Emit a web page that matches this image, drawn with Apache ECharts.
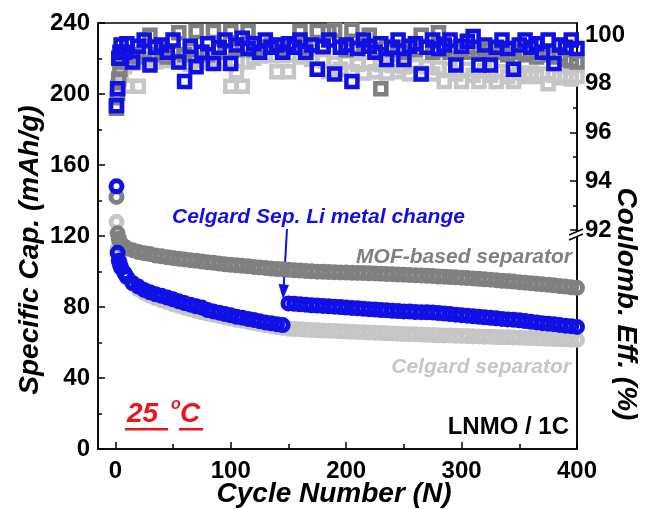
<!DOCTYPE html>
<html>
<head>
<meta charset="utf-8">
<script src="https://cdn.jsdelivr.net/npm/echarts@6/dist/echarts.min.js"></script>
<style>
  html, body { margin: 0; padding: 0; background: #fff; }
  #chart { width: 646px; height: 509px; }
</style>
</head>
<body>
<div id="chart"></div>
<script>
// cycle numbers
var cycles = [1, 2, 3, 4, 5, 8, 10, 15, 20, 25, 30, 35, 40, 45, 50, 55, 60, 65, 70, 75, 80, 85, 90, 95, 100,
  105, 110, 115, 120, 125, 130, 135, 140, 145, 150, 155, 160, 165, 170, 175, 180, 185, 190, 195, 200,
  205, 210, 215, 220, 225, 230, 235, 240, 245, 250, 255, 260, 265, 270, 275, 280, 285, 290, 295, 300,
  305, 310, 315, 320, 325, 330, 335, 340, 345, 350, 355, 360, 365, 370, 375, 380, 385, 390, 395, 400]

// specific capacity (mAh/g)
var mofCap = [142, 121.5, 118.5, 116.5, 115.5, 114, 113, 112, 111, 110.3, 109.8, 109, 108.6, 108, 107.6, 107.2, 106.8, 106.4, 106, 105.6, 105.2, 104.9, 104.5, 104.1, 103.8,
  103.5, 103.2, 102.9, 102.6, 102.3, 102, 101.7, 101.4, 101.2, 101, 100.7, 100.5, 100.3, 100.1, 99.9, 99.8, 99.7, 99.6, 99.5, 99.4,
  99.3, 99.2, 99.1, 99, 98.9, 98.8, 98.6, 98.5, 98.3, 98.2, 98, 97.9, 97.7, 97.6, 97.4, 97.2, 97.1, 96.9, 96.7, 96.5,
  96.3, 96.1, 95.9, 95.6, 95.4, 95.1, 94.8, 94.6, 94.3, 94, 93.7, 93.4, 93.1, 92.8, 92.5, 92.2, 91.8, 91.5, 91.1, 90.8]
var celgardCap = [128, 113, 109, 105.5, 103, 99, 96.5, 93, 90, 88, 86.3, 85, 83.8, 82.7, 81.6, 80.6, 79.6, 78.7, 77.9, 77, 76.3, 75.6, 74.9, 74.2, 73.5,
  72.8, 72.2, 71.6, 71, 70.4, 69.8, 69.2, 68.7, 68.2, 67.8, 67.6, 67.4, 67.2, 67, 66.9, 66.7, 66.6, 66.5, 66.3, 66.2,
  66, 65.9, 65.8, 65.6, 65.5, 65.4, 65.2, 65.1, 64.9, 64.8, 64.7, 64.6, 64.5, 64.3, 64.2, 64.1, 64, 63.9, 63.8, 63.7,
  63.6, 63.5, 63.4, 63.3, 63.2, 63.1, 63, 62.9, 62.8, 62.7, 62.6, 62.5, 62.4, 62.2, 62.1, 62, 61.9, 61.8, 61.6, 61.5]
var liChangeCap = [148, 110.5, 106, 104, 102, 99, 97, 93.5, 91.5, 89.6, 88.3, 87.2, 86.3, 85.3, 84.3, 83.2, 82.2, 81.3, 80.4, 79.7, 78.3, 77.5, 76.8, 76, 75.3,
  74.5, 74, 73.3, 72.7, 72, 71.3, 70.8, 70.3, 69.8, 82, 81.8, 81.5, 81.3, 81, 80.8, 80.6, 80.4, 80.2, 80, 79.7,
  79.5, 79.3, 79, 78.8, 78.6, 78.3, 78.1, 77.9, 77.7, 77.5, 77.4, 77.2, 77.1, 77, 76.9, 76.6, 76.3, 76, 75.7, 75.4,
  75.1, 74.8, 74.5, 74.2, 73.9, 73.6, 73.3, 73, 72.8, 72.5, 72.1, 71.7, 71.3, 70.9, 70.6, 70.3, 69.9, 69.5, 69.2, 68.8]

// coulombic efficiency (%)
var mofCE = [97, 97.6, 98.2, 98.6, 98.9, 99.15, 99.25, 99.2, 99.1, 99.3, 100, 99.2, 99.4, 99.1, 99.3, 100.1, 99.2, 99.4, 100.15, 99.3, 99.2, 100.15, 99.4, 99.3, 100.15,
  99.4, 99.5, 100.15, 99.4, 99.5, 99.5, 99.6, 99.5, 99.4, 99.5, 99.6, 100.15, 99.5, 99.6, 100.15, 99.5, 100.15, 100.2, 99.5, 99.4,
  100.2, 99.5, 99.6, 100, 99.4, 97.8, 99.5, 99.4, 99.5, 99.3, 99.5, 99.4, 100, 99.5, 99.3, 100.1, 99.4, 99.3, 99.5, 99.4,
  99.3, 99.5, 99.3, 99.4, 99.2, 99.4, 99.3, 99.2, 99.4, 99.3, 99.2, 99.3, 99.1, 99.3, 99.2, 99.1, 99.2, 99, 98.95, 98.9]
var celgardCE = [97.4, 97.9, 98.1, 98.4, 98.5, 98.7, 97.9, 98.85, 97.9, 98.9, 99, 98.9, 99.05, 98.95, 99, 98.9, 99.05, 98.8, 98.95, 99, 98.9, 99, 98.85, 98.95, 97.9,
  98.5, 97.9, 98.9, 99.05, 99.15, 99.2, 99.15, 98.5, 99.15, 98.5, 99.2, 99.1, 99.15, 99, 98.6, 98.95, 98.5, 98.85, 98.6, 98.9,
  98.5, 98.8, 98.45, 98.85, 98.5, 98.8, 98.45, 98.75, 98.5, 98.7, 98.4, 98.75, 98.45, 98.7, 98.4, 98.65, 98.1, 98.6, 98.4, 98.1,
  98.6, 98.35, 98.1, 98.55, 98.35, 98.1, 98.5, 98.3, 98.1, 98.45, 98.3, 98.45, 98.3, 98.4, 98, 98.35, 98.25, 98.35, 98.2, 98.3]
var liChangeCE = [97.1, 97.8, 99.05, 99.3, 99.6, 99.3, 99.65, 98.9, 99.55, 99.8, 98.77, 99.5, 99.6, 99.3, 99.8, 98.9, 98.1, 99.55, 98.7, 99.3, 99.65, 98.84, 99.5, 99.8, 98.84,
  99.6, 99.87, 99.45, 99.65, 99.3, 99.8, 99.5, 99.6, 99.3, 99.65, 99.5, 99.8, 99.3, 99.6, 98.6, 99.55, 99.8, 98.4, 99.5, 99.6,
  98.1, 99.45, 99.8, 99.55, 99.3, 99.65, 99, 99.5, 99.8, 99, 99.55, 99.65, 98.4, 99.5, 99.8, 99.45, 99.6, 99.8, 98.77, 99.55,
  99.75, 99.95, 98.77, 99.6, 98.77, 99.5, 99.8, 99.45, 98.6, 99.6, 99.8, 99.5, 99.65, 99.3, 99.8, 98.84, 99.6, 99.5, 99.8, 99.45]

var xTickLabels = [0, 100, 200, 300, 400]
var xMinorTicks = [50, 150, 250, 350]
var ceTickLabels = [92, 94, 96, 98, 100]
var ceMinorTicks = [93, 95, 97, 99]

var BLUE = '#1010e6'
var DARK = '#808080'
var LIGHT = '#c6c6c6'
var RED = '#e8161c'
var FONT = 'Liberation Sans, Arial, sans-serif'

function pairs(ys) {
  return cycles.map(function(c, i) { return [c, ys[i]] })
}

// hollow markers with a thick outline so that neighbouring points merge into a band
function markSeries(name, ys, color, yAxisIndex, symbol, size, border) {
  return {
    name: name,
    type: 'scatter',
    xAxisIndex: 0,
    yAxisIndex: yAxisIndex,
    symbol: symbol,
    symbolSize: size,
    itemStyle: { color: 'rgba(0,0,0,0)', borderColor: color, borderWidth: border, opacity: 1 },
    emphasis: { disabled: true },
    data: pairs(ys)
  }
}

var labelStyle = { color: '#000', fontSize: 24, fontWeight: 'bold', fontFamily: FONT }
var axisLineStyle = { show: true, onZero: false, lineStyle: { color: '#000', width: 1.5 } }
var hiddenLine = { show: true, onZero: false, lineStyle: { color: 'rgba(0,0,0,0)', width: 1 } }
var tickLine = { color: '#000', width: 1.5 }

function txt(x, y, text, color, font, align, rotation) {
  return {
    type: 'text', x: x, y: y, rotation: rotation || 0,
    style: { text: text, fill: color, font: font + ' ' + FONT, textAlign: align, textVerticalAlign: 'middle' }
  }
}

var chart = echarts.init(document.getElementById('chart'), null, { renderer: 'canvas' })

chart.setOption({
  animation: false,
  backgroundColor: '#fff',
  grid: {
    left: 98, top: 23, right: 69, bottom: 60,
    show: true, borderColor: '#000', borderWidth: 1.5,
    containLabel: false, outerBoundsMode: 'none'
  },
  xAxis: [{
    type: 'value', min: -15, max: 400, position: 'bottom',
    axisLine: axisLineStyle,
    axisTick: { inside: true, length: 7, customValues: xTickLabels, lineStyle: tickLine },
    axisLabel: Object.assign({ customValues: xTickLabels, margin: 10 }, labelStyle),
    splitLine: { show: false }
  }, {
    type: 'value', min: -15, max: 400, position: 'bottom',
    axisLine: hiddenLine,
    axisTick: { inside: true, length: 5, customValues: xMinorTicks, lineStyle: tickLine },
    axisLabel: { show: false },
    splitLine: { show: false }
  }],
  yAxis: [{
    type: 'value', min: 0, max: 240, interval: 40, position: 'left',
    axisLine: axisLineStyle,
    axisTick: { inside: true, length: 7, lineStyle: tickLine },
    minorTick: { show: true, splitNumber: 2, length: 4, lineStyle: tickLine },
    axisLabel: Object.assign({ margin: 8 }, labelStyle),
    splitLine: { show: false }
  }, {
    type: 'value', min: 83, max: 100.5, position: 'right',
    axisLine: axisLineStyle,
    axisTick: { inside: true, length: 7, customValues: ceTickLabels, lineStyle: tickLine },
    axisLabel: Object.assign({ customValues: ceTickLabels, margin: 8 }, labelStyle),
    splitLine: { show: false }
  }, {
    type: 'value', min: 83, max: 100.5, position: 'right',
    axisLine: hiddenLine,
    axisTick: { inside: true, length: 4, customValues: ceMinorTicks, lineStyle: tickLine },
    axisLabel: { show: false },
    splitLine: { show: false }
  }],
  series: [
    markSeries('Celgard CE', celgardCE, LIGHT, 1, 'rect', 11, 4.5),
    markSeries('MOF CE', mofCE, DARK, 1, 'rect', 11, 4.5),
    markSeries('Li change CE', liChangeCE, BLUE, 1, 'rect', 11, 4.5),
    markSeries('Celgard', celgardCap, LIGHT, 0, 'circle', 11, 5),
    markSeries('MOF', mofCap, DARK, 0, 'circle', 11, 5),
    markSeries('Li change', liChangeCap, BLUE, 0, 'circle', 11, 5)
  ],
  graphic: [
    // axis titles
    txt(30, 250, 'Specific Cap. (mAh/g)', '#000', 'italic bold 28px', 'center', Math.PI / 2),
    txt(626, 304, 'Coulomb. Eff. (%)', '#000', 'italic bold 28px', 'center', -Math.PI / 2),
    txt(334, 494, 'Cycle Number (N)', '#000', 'italic bold 28px', 'center'),
    // annotations
    txt(172, 217, 'Celgard Sep. Li metal change', BLUE, 'italic bold 21px', 'left'),
    { type: 'line', shape: { x1: 287, y1: 229, x2: 283.5, y2: 290 }, style: { stroke: BLUE, lineWidth: 2 } },
    { type: 'polygon', shape: { points: [[278.5, 284], [289, 285], [283, 299]] }, style: { fill: BLUE } },
    txt(572, 257, 'MOF-based separator', DARK, 'italic bold 21px', 'right'),
    txt(571, 367, 'Celgard separator', LIGHT, 'italic bold 21px', 'right'),
    txt(569, 427, 'LNMO / 1C', '#000', 'bold 24px', 'right'),
    // 25 °C
    txt(127, 414, '25', RED, 'italic bold 28px', 'left'),
    txt(171, 405, 'o', RED, 'italic bold 16px', 'left'),
    txt(180, 414, 'C', RED, 'italic bold 28px', 'left'),
    { type: 'rect', shape: { x: 125, y: 428, width: 43, height: 2.5 }, style: { fill: RED } },
    { type: 'rect', shape: { x: 179, y: 428, width: 24, height: 2.5 }, style: { fill: RED } },
    // axis break on the right axis
    { type: 'rect', shape: { x: 574, y: 231, width: 7, height: 6 }, style: { fill: '#fff' }, z: 100 },
    { type: 'line', shape: { x1: 569, y1: 235, x2: 583, y2: 229 }, style: { stroke: '#000', lineWidth: 1.5 }, z: 101 },
    { type: 'line', shape: { x1: 569, y1: 240, x2: 583, y2: 234 }, style: { stroke: '#000', lineWidth: 1.5 }, z: 101 }
  ]
})
</script>
</body>
</html>
